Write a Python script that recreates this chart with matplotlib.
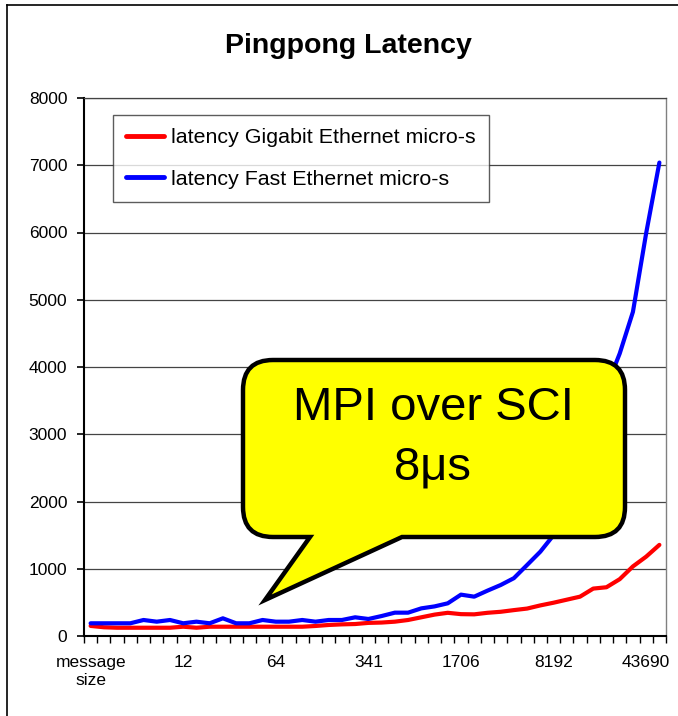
import numpy as np
import matplotlib
matplotlib.use("Agg")
import matplotlib.pyplot as plt
from matplotlib.path import Path
from matplotlib.patches import PathPatch
from matplotlib.lines import Line2D

plt.rcParams['font.family'] = ['Liberation Sans', 'DejaVu Sans']

# ---- data ----
tick_labels = ["message\nsize", "12", "64", "341", "1706", "8192", "43690"]
label_every = 7

gigabit = [150, 130, 123, 123, 123, 123, 123, 138, 123, 138,
           138, 138, 138, 138, 138, 138, 138, 149, 164, 173,
           178, 195, 200, 213, 238, 278, 318, 345, 325, 322,
           345, 360, 385, 408, 455, 495, 540, 585, 705, 725,
           845, 1035, 1180, 1355]

fast = [189, 189, 189, 189, 238, 213, 238, 189, 213, 189,
        263, 189, 189, 238, 213, 213, 238, 213, 238, 238,
        278, 253, 297, 347, 347, 411, 440, 486, 615, 585,
        674, 758, 860, 1056, 1254, 1500, 2150, 3000, 4080, 3700,
        4200, 4820, 5990, 7040]

series_names = ["latency Gigabit Ethernet micro-s", "latency Fast Ethernet micro-s"]

W, H = 678, 716
fig = plt.figure(figsize=(W / 100, H / 100), dpi=100)

# plot area in pixels: x 84..666, y 98..636
ax = fig.add_axes([84 / W, 1 - 636 / H, (666 - 84) / W, (636 - 98) / H])

n = len(fast)
x = np.arange(n)
ax.plot(x, gigabit, color='#ff0000', lw=3, label=series_names[0], zorder=3,
        solid_capstyle='round')
ax.plot(x, fast, color='#0000ff', lw=3, label=series_names[1], zorder=3,
        solid_capstyle='round')

ax.set_xlim(-0.5, n - 0.5)
ax.set_ylim(0, 8000)

# y axis
ax.set_yticks(np.arange(0, 8001, 1000))
ax.tick_params(axis='y', direction='out', length=5, width=1.2, pad=7, labelsize=12.5)
ax.yaxis.grid(True, color='#444444', lw=0.9)
ax.set_axisbelow(True)

# x axis: tick marks at category edges, labels every 7th category
ax.set_xticks(np.arange(-0.5, n, 1))
ax.set_xticklabels([])
ax.set_xticks(np.arange(0, n, label_every), minor=True)
ax.set_xticklabels(tick_labels, minor=True, fontsize=12.5)
ax.tick_params(axis='x', which='major', direction='out', length=5, width=1.0)
ax.tick_params(axis='x', which='minor', length=0, pad=14)

for s in ['left', 'bottom']:
    ax.spines[s].set_linewidth(1.5)
ax.spines['top'].set_linewidth(0.9)
ax.spines['top'].set_color('#444444')
ax.spines['right'].set_color('#808080')
ax.spines['right'].set_linewidth(1.0)

leg = ax.legend(loc='upper left', bbox_to_anchor=(0.0498, 0.968), fontsize=15.4,
                frameon=True, fancybox=False, edgecolor='#333333',
                handlelength=1.75, handletextpad=0.33, labelspacing=1.05,
                borderpad=0.62, borderaxespad=0)
leg.get_frame().set_linewidth(1.0)
for h in leg.get_lines():
    h.set_linewidth(3.5)

# title
fig.text(348 / W, 1 - 46 / H, "Pingpong Latency", ha='center', va='center',
         fontsize=20.5, fontweight='bold')

# outer chart border (left and top visible)
fig.add_artist(Line2D([7 / W, 7 / W], [0, 1 - 5 / H], color='black', lw=1.2))
fig.add_artist(Line2D([7 / W, 1], [1 - 5 / H, 1 - 5 / H], color='black', lw=1.2))


# speech-bubble callout, built in pixel coordinates
def px(p):
    return (p[0] / W, 1 - p[1] / H)


x0, x1, y0, y1, r = 243, 625, 360, 537, 30
tail_l, tail_r, tip = 310, 402, (265, 600)
pts = [(x0 + r, y0), (x1 - r, y0), (x1, y0), (x1, y0 + r), (x1, y1 - r),
       (x1, y1), (x1 - r, y1), (tail_r, y1), tip, (tail_l, y1), (x0 + r, y1),
       (x0, y1), (x0, y1 - r), (x0, y0 + r), (x0, y0), (x0 + r, y0), (x0 + r, y0)]
codes = [Path.MOVETO, Path.LINETO, Path.CURVE3, Path.CURVE3, Path.LINETO,
         Path.CURVE3, Path.CURVE3, Path.LINETO, Path.LINETO, Path.LINETO, Path.LINETO,
         Path.CURVE3, Path.CURVE3, Path.LINETO, Path.CURVE3, Path.CURVE3, Path.CLOSEPOLY]
bubble = PathPatch(Path([px(p) for p in pts], codes), transform=fig.transFigure,
                   facecolor='#ffff00', edgecolor='black', lw=3.2, joinstyle='miter',
                   zorder=10)
fig.add_artist(bubble)
fig.text(433 / W, 1 - 408 / H, "MPI over SCI", ha='center', va='center',
         fontsize=34, zorder=11)
fig.text(433 / W, 1 - 468 / H, "8μs", ha='center', va='center',
         fontsize=34, zorder=11)

fig.savefig("out.png", dpi=100)
